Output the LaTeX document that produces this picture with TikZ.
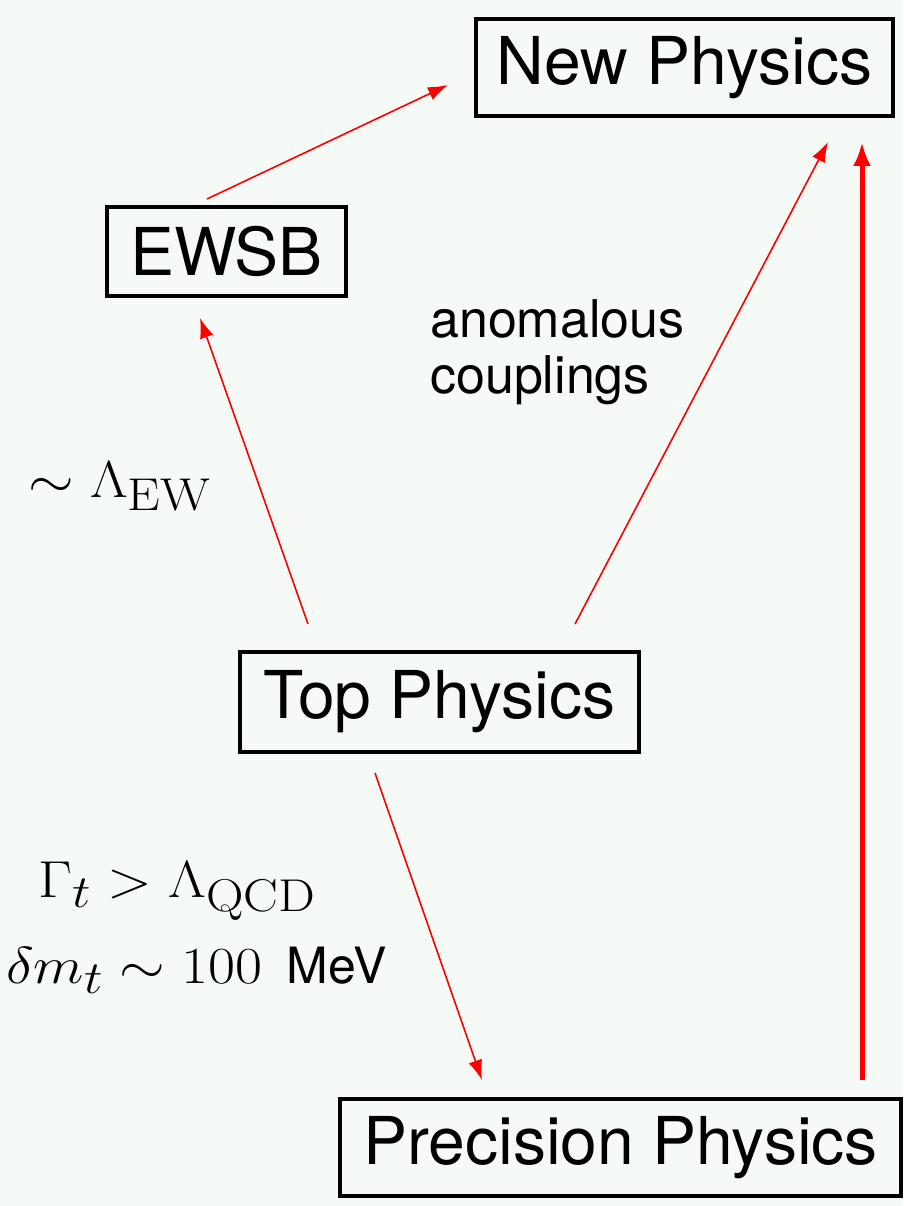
\RequirePackage{fix-cm}
\documentclass[tikz,border=0pt]{standalone}
\usepackage{fontspec}
\usepackage{graphicx}
\setsansfont{TeX Gyre Heros}
\usetikzlibrary{arrows.meta}
\DeclareMathSizes{52}{52}{46}{38}
\newcommand{\wmath}[1]{\scalebox{1.13}[1]{$#1$}}
\definecolor{bgc}{RGB}{246,250,247}
\begin{document}
\begin{tikzpicture}[x=1pt,y=-1pt,
  box/.style={draw=black,line width=3.8pt,inner sep=0pt,
    font=\fontsize{66}{72}\selectfont\sffamily},
  arrthin/.style={red,line width=1.6pt,-{Latex[length=20pt,width=14pt]}},
  arrthick/.style={red,line width=5pt,-{Latex[length=24pt,width=18pt]}},
  mlab/.style={anchor=base west,inner sep=0pt,font=\fontsize{52}{60}\selectfont},
  slab/.style={anchor=base west,inner sep=0pt,font=\fontsize{52}{60}\selectfont\sffamily}]
\fill[bgc] (0,0) rectangle (903,1206);
\useasboundingbox (0,0) rectangle (903,1206);
% boxes
\node[box,minimum width=417pt,minimum height=97pt] (np) at (684.5,67.5) {New Physics};
\node[box,minimum width=239pt,minimum height=89pt] (ewsb) at (226.5,251.5) {EWSB};
\node[box,minimum width=399pt,minimum height=100pt] (top) at (439.5,702) {Top Physics};
\node[box,minimum width=561pt,minimum height=97pt] (prec) at (620.5,1147.5) {Precision Physics};
% connector end points
\coordinate (e1s) at (207,199);  \coordinate (e1e) at (448,85);
\coordinate (e2s) at (308,624);  \coordinate (e2e) at (200,318);
\coordinate (e3s) at (575,624);  \coordinate (e3e) at (828,142);
\coordinate (e4s) at (375,773);  \coordinate (e4e) at (482,1080);
\coordinate (e5s) at (862,1080); \coordinate (e5e) at (862,142);
\draw[arrthin] (e1s) -- (e1e);
\draw[arrthin] (e2s) -- (e2e);
\draw[arrthin] (e3s) -- (e3e);
\draw[arrthin] (e4s) -- (e4e);
\draw[arrthick] (e5s) -- (e5e);
% labels
\node[slab] (anom1) at (430,337) {anomalous};
\node[slab] (anom2) at (430,393) {couplings};
\node[mlab] (lew) at (28,497) {\wmath{\sim\Lambda_{\mathrm{EW}}}};
\node[mlab] (lqcd) at (38,897) {\wmath{\Gamma_t>\Lambda_{\mathrm{QCD}}}};
\node[mlab] (lmt) at (6,983) {\wmath{\delta m_t\sim 100}\hspace{24pt}{\fontsize{50}{55}\selectfont\sffamily MeV}};
\end{tikzpicture}
\end{document}
